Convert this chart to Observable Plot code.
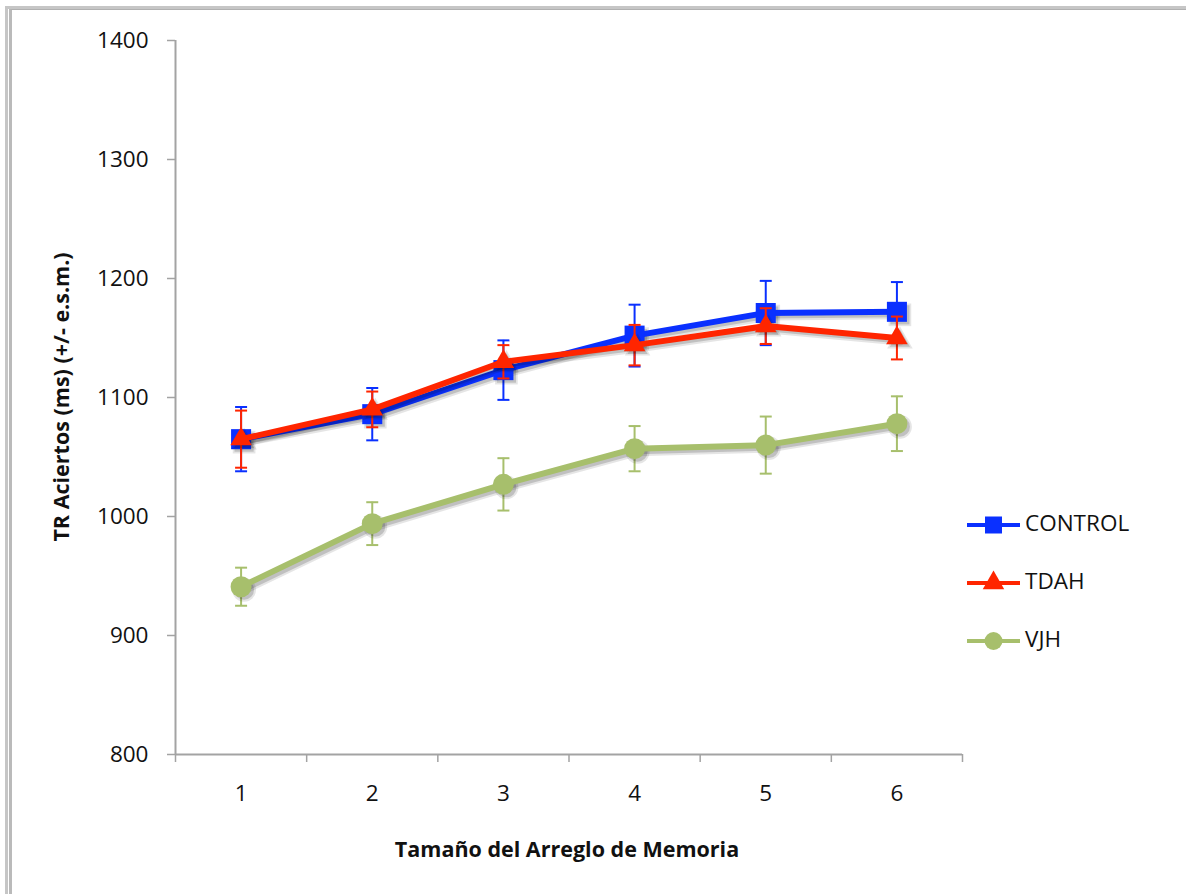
<!DOCTYPE html>
<html><head><meta charset="utf-8">
<script src="https://cdn.jsdelivr.net/npm/d3@7"></script>
<script src="https://cdn.jsdelivr.net/npm/@observablehq/plot@0.6"></script>
<style>
body{margin:0;background:#fff;}
#wrap{position:relative;width:1186px;height:894px;overflow:hidden;background:#fff;}
.frame1{position:absolute;left:5px;top:6px;right:-10px;bottom:-10px;border-left:3px solid #c6c6c6;border-top:3px solid #c6c6c6;}
.frame2{position:absolute;left:9px;top:9px;right:-10px;bottom:-10px;border-left:3px solid #bababa;border-top:1px solid #b0b0b0;}
#chart{position:absolute;left:0;top:0;}
</style>
</head><body>
<div id="wrap"><div class="frame1"></div><div class="frame2"></div><div id="chart"></div></div>
<script>
// ---- data ----
const sizes = [1, 2, 3, 4, 5, 6];
const xBoundaries = [0.5, 1.5, 2.5, 3.5, 4.5, 5.5, 6.5];
const yTicks = [800, 900, 1000, 1100, 1200, 1300, 1400];
const seriesNames = ["CONTROL", "TDAH", "VJH"];
const controlMean = [1065, 1086, 1123, 1152, 1171, 1172];
const controlErr  = [27, 22, 25, 26, 27, 25];
const tdahMean    = [1065, 1090, 1130, 1144, 1160, 1150];
const tdahErr     = [24, 15, 14, 17, 15, 18];
const vjhMean     = [941, 994, 1027, 1057, 1060, 1078];
const vjhErr      = [16, 18, 22, 19, 24, 23];
const xTitle = "Tamaño del Arreglo de Memoria";
const yTitle = "TR Aciertos (ms) (+/- e.s.m.)";

// ---- styles ----
const seriesColors = ["#0a30ff", "#ff2500", "#a7bf6c"];
const seriesSymbols = ["square", "triangle", "circle"];
const seriesR = [11.3, 8, 10.5];
const means = [controlMean, tdahMean, vjhMean];
const errs = [controlErr, tdahErr, vjhErr];

const capSymbol = {
  draw(context, size) {
    const r = Math.sqrt(size / Math.PI);
    context.moveTo(-r, 0);
    context.lineTo(r, 0);
  }
};

const marks = [];
seriesNames.forEach((name, i) => {
  const rows = sizes.map((s, j) => ({size: s, mean: means[i][j], err: errs[i][j]}));
  const color = seriesColors[i];
  marks.push(
    Plot.ruleX(rows, {x: "size", y1: d => d.mean - d.err, y2: d => d.mean + d.err, stroke: color, strokeWidth: 2}),
    Plot.dot(rows, {x: "size", y: d => d.mean + d.err, symbol: capSymbol, r: 6, stroke: color, strokeWidth: 2, fill: "none"}),
    Plot.dot(rows, {x: "size", y: d => d.mean - d.err, symbol: capSymbol, r: 6, stroke: color, strokeWidth: 2, fill: "none"}),
    // soft shadow (offset copies)
    Plot.line(rows, {x: "size", y: "mean", stroke: "#000", strokeOpacity: 0.10, strokeWidth: 9, dx: 3, dy: 3}),
    Plot.line(rows, {x: "size", y: "mean", stroke: "#000", strokeOpacity: 0.16, strokeWidth: 5, dx: 3, dy: 3}),
    Plot.dot(rows, {x: "size", y: "mean", symbol: seriesSymbols[i], r: seriesR[i] + 1.5, fill: "#000", fillOpacity: 0.10, dx: 3, dy: 3}),
    Plot.dot(rows, {x: "size", y: "mean", symbol: seriesSymbols[i], r: seriesR[i] - 0.5, fill: "#000", fillOpacity: 0.16, dx: 3, dy: 3}),
    Plot.line(rows, {x: "size", y: "mean", stroke: color, strokeWidth: 6}),
    Plot.dot(rows, {x: "size", y: "mean", symbol: seriesSymbols[i], r: seriesR[i], fill: color})
  );
});

const chart = Plot.plot({
  width: 1186,
  height: 894,
  marginLeft: 175,
  marginRight: 224,
  marginTop: 40,
  marginBottom: 140,
  style: {fontFamily: "'Open Sans', sans-serif", fontSize: "22.5px", color: "#000", background: "transparent"},
  x: {domain: [0.5, 6.5], axis: null},
  y: {domain: [800, 1400], axis: null},
  marks: [
    Plot.ruleX([0.5], {stroke: "#a3a3a3", strokeWidth: 2}),
    Plot.ruleY([800], {stroke: "#a3a3a3", strokeWidth: 2}),
    Plot.axisY({ticks: yTicks, tickSize: 8, tickPadding: 19, stroke: "#a3a3a3", fill: "#111", strokeWidth: 1.5, label: null, tickFormat: d => String(d)}),
    Plot.axisX({ticks: xBoundaries, tickSize: 8, tickFormat: () => "", stroke: "#a3a3a3", strokeWidth: 1.5, label: null}),
    Plot.axisX({ticks: sizes, tickSize: 0, tickPadding: 31, fill: "#111", label: null, tickFormat: d => String(d)}),
    ...marks
  ]
});

document.getElementById("chart").appendChild(chart);

const svg = d3.select(chart);
// titles
svg.append("text")
  .attr("x", 567).attr("y", 851)
  .attr("text-anchor", "middle").attr("dominant-baseline", "middle")
  .attr("font-weight", 700).attr("font-size", "21.5px").attr("fill", "#111")
  .text(xTitle);
svg.append("text")
  .attr("transform", "translate(63,397) rotate(-90)")
  .attr("text-anchor", "middle").attr("dominant-baseline", "middle")
  .attr("font-weight", 700).attr("font-size", "21.5px").attr("fill", "#111")
  .text(yTitle);

// legend
const legendY = [525, 583, 641];
const legendSym = [d3.symbolSquare, d3.symbolTriangle, d3.symbolCircle];
const legendSize = [289, 200, 254];
seriesNames.forEach((name, i) => {
  const g = svg.append("g").attr("transform", `translate(0,${legendY[i]})`);
  g.append("line").attr("x1", 967).attr("x2", 1020).attr("y1", 0).attr("y2", 0)
    .attr("stroke", seriesColors[i]).attr("stroke-width", 4);
  g.append("path").attr("transform", "translate(993.5,0)")
    .attr("d", d3.symbol(legendSym[i], legendSize[i])()).attr("fill", seriesColors[i]);
  g.append("text").attr("x", 1025).attr("y", 0).attr("dominant-baseline", "middle")
    .attr("text-anchor", "start")
    .attr("fill", "#111").attr("font-size", "22.5px").text(name);
});
</script>
</body></html>
